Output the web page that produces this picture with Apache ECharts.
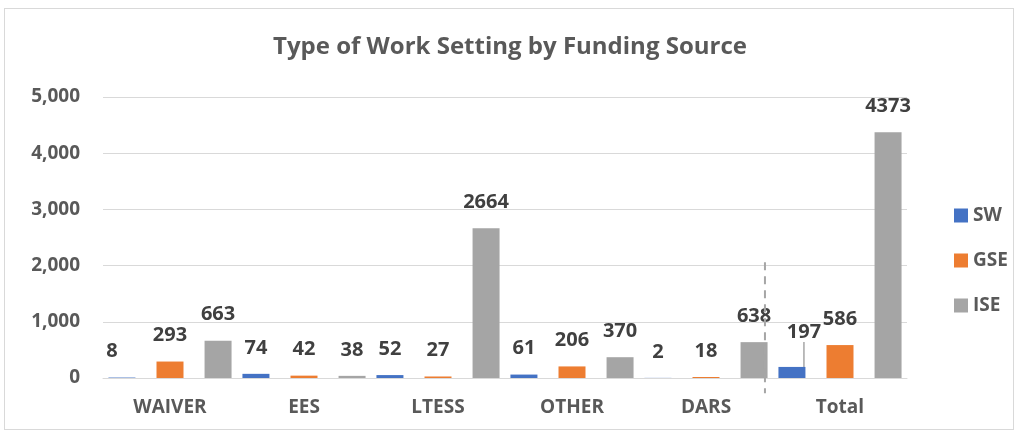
<!DOCTYPE html>
<html>
<head>
<meta charset="utf-8">
<script src="https://cdn.jsdelivr.net/npm/echarts@6/dist/echarts.min.js"></script>
<style>
    html, body { margin: 0; padding: 0; background: #fff; }
    #frame { position: absolute; left: 4px; top: 8px; width: 1010px; height: 422px; border: 1px solid #d9d9d9; box-sizing: border-box; }
    #chart { position: absolute; left: 0; top: 0; width: 1020px; height: 435px; }
</style>
</head>
<body>
<div id="frame"></div>
<div id="chart"></div>
<script>
var categories = ['WAIVER', 'EES', 'LTESS', 'OTHER', 'DARS', 'Total'];
var swValues = [8, 74, 52, 61, 2, 197];
var gseValues = [293, 42, 27, 206, 18, 586];
var iseValues = [663, 38, 2664, 370, 638, 4373];
var yTicks = [0, 1000, 2000, 3000, 4000, 5000];

var FONT = 'Open Sans';
var labelStyle = {
    show: true,
    position: 'top',
    distance: 16,
    color: '#404040',
    fontFamily: FONT,
    fontWeight: 'bold',
    fontSize: 20
};

// only the Total/SW label is pushed aside with a leader line
var swData = swValues.map(function (v, i) {
    if (i === 5) {
        return { value: v, labelLine: { show: true } };
    }
    return v;
});

var myChart = echarts.init(document.getElementById('chart'));
myChart.setOption({
    animation: false,
    title: {
        text: 'Type of Work Setting by Funding Source',
        left: 'center',
        top: 30,
        textStyle: {
            color: '#595959',
            fontFamily: FONT,
            fontWeight: 'bold',
            fontSize: 24
        }
    },
    legend: {
        orient: 'vertical',
        left: 949,
        top: 201,
        itemWidth: 14,
        itemHeight: 14,
        itemGap: 26,
        icon: 'rect',
        textStyle: {
            color: '#595959',
            fontFamily: FONT,
            fontWeight: 'bold',
            fontSize: 19
        },
        data: ['SW', 'GSE', 'ISE']
    },
    grid: {
        left: 103,
        right: 113,
        top: 97,
        bottom: 57,
        containLabel: false
    },
    xAxis: {
        type: 'category',
        data: categories,
        axisTick: { show: false },
        axisLine: { lineStyle: { color: '#d9d9d9', width: 1 } },
        axisLabel: {
            margin: 20,
            color: '#595959',
            fontFamily: FONT,
            fontWeight: 'bold',
            fontSize: 19
        }
    },
    yAxis: {
        type: 'value',
        min: yTicks[0],
        max: yTicks[yTicks.length - 1],
        interval: 1000,
        axisLine: { show: false },
        axisTick: { show: false },
        splitLine: { lineStyle: { color: '#d9d9d9' } },
        axisLabel: {
            margin: 23,
            color: '#595959',
            fontFamily: FONT,
            fontWeight: 'bold',
            fontSize: 19,
            formatter: function (v) { return v.toLocaleString('en-US'); }
        }
    },
    series: [{
        name: 'SW',
        type: 'bar',
        barWidth: 27,
        barGap: '78%',
        itemStyle: { color: '#4472C4' },
        label: labelStyle,
        labelLine: { show: false, lineStyle: { color: '#a6a6a6', width: 1.5 } },
        labelLayout: function (params) {
            if (params.dataIndex === 0) {
                return { dx: -10 };
            }
            if (params.dataIndex === 5) {
                return { dx: 12, dy: -9 };
            }
            return {};
        },
        data: swData
    }, {
        name: 'GSE',
        type: 'bar',
        barWidth: 27,
        barGap: '78%',
        itemStyle: { color: '#ED7D31' },
        label: labelStyle,
        data: gseValues
    }, {
        name: 'ISE',
        type: 'bar',
        barWidth: 27,
        barGap: '78%',
        itemStyle: { color: '#A5A5A5' },
        label: labelStyle,
        data: iseValues
    }]
});

// dashed separator between DARS and Total, placed through the axes
var xDars = myChart.convertToPixel({ xAxisIndex: 0 }, 'DARS');
var xTotal = myChart.convertToPixel({ xAxisIndex: 0 }, 'Total');
var xSep = xDars + (xTotal - xDars) * 0.44;
var yTop = myChart.convertToPixel({ yAxisIndex: 0 }, 2060);
var yBottom = myChart.convertToPixel({ yAxisIndex: 0 }, -270);
myChart.setOption({
    graphic: [{
        type: 'line',
        shape: { x1: xSep, y1: yTop, x2: xSep, y2: yBottom },
        style: { stroke: '#a6a6a6', lineWidth: 2, lineDash: [8, 6] },
        z: 10
    }]
});
</script>
</body>
</html>
